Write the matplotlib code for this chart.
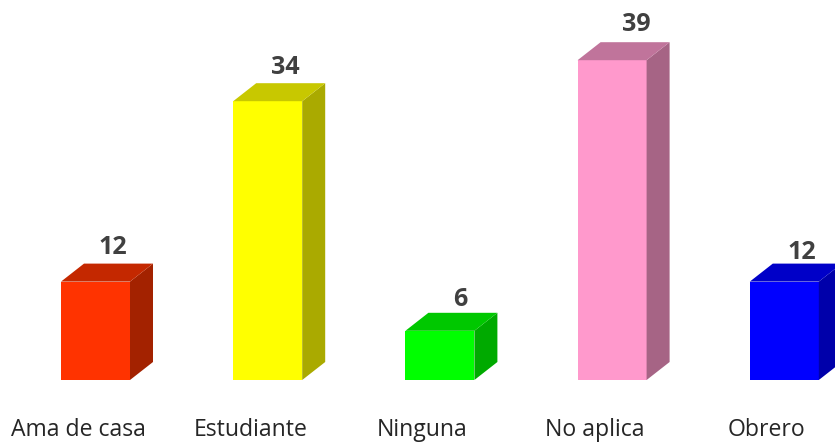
import matplotlib
matplotlib.use('Agg')
import matplotlib.pyplot as plt

categories = ['Ama de casa', 'Estudiante', 'Ninguna', 'No aplica', 'Obrero']
values = [12, 34, 6, 39, 12]
front_colors = ['#FF3300', '#FFFF00', '#00FF00', '#FF99CC', '#0000FF']
side_colors = ['#A32200', '#AAAA00', '#00AA00', '#A66485', '#0000AA']
top_colors = ['#C42800', '#C8C800', '#00C800', '#C0749B', '#0000C8']

# value labels were moved by hand in the original (pixels right, pixels up)
label_dx = [17.5, 18, 20, 24, 17.5]
label_dy = [10, 9, 7, 11, 5]

plt.rcParams['font.family'] = ['Open Sans', 'DejaVu Sans']

W, H = 835, 442
fig = plt.figure(figsize=(W / 100, H / 100), dpi=100)
ax = fig.add_axes([0, 0, 1, 1])

# one unit on x is 172.2 px, one unit on y is 8.2 px
px_x = 172.2
px_y = 8.2
ax.set_xlim(-95.5 / px_x, (W - 95.5) / px_x)
ax.set_ylim(-(H - 380) / px_y, 380 / px_y)
ax.axis('off')

bar_w = 69 / px_x
dx = 23 / px_x
dy = 18 / px_y

# Front faces
ax.bar(range(len(values)), values, width=bar_w, color=front_colors, linewidth=0)

# Side and top faces
for i, v in enumerate(values):
    left = i - bar_w / 2
    right = i + bar_w / 2
    ax.fill([right, right + dx, right + dx, right], [0, dy, v + dy, v], color=side_colors[i], lw=0)
    ax.fill([left, right, right + dx, left + dx], [v, v, v + dy, v + dy], color=top_colors[i], lw=0)
    ax.text(i + label_dx[i] / px_x, v + dy + label_dy[i] / px_y, str(v), ha='center', va='baseline',
            fontsize=18, fontweight='bold', color='#404040')
    ax.text(i - 17.5 / px_x, -56 / px_y, categories[i], ha='center', va='baseline',
            fontsize=16.6, color='#262626')

fig.savefig('out.png', dpi=100)
